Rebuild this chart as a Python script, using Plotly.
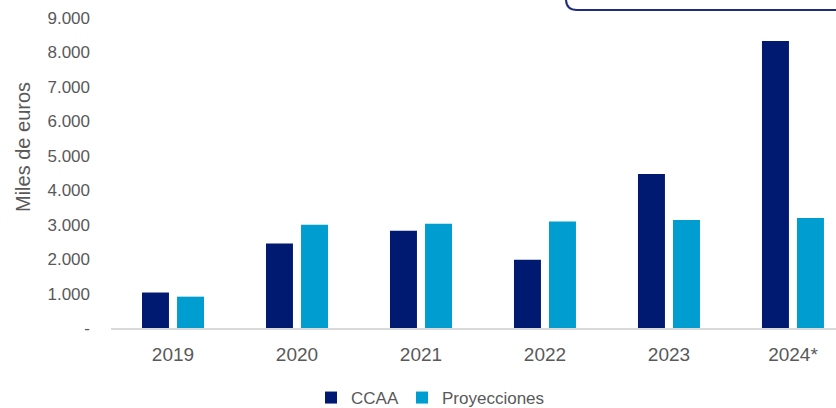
import plotly.graph_objects as go

# Datos (miles de euros)
years = ["2019", "2020", "2021", "2022", "2023", "2024*"]
ccaa = [1030, 2450, 2825, 1985, 4470, 8335]
proyecciones = [910, 3000, 3030, 3095, 3135, 3195]

y_tickvals = [0, 1000, 2000, 3000, 4000, 5000, 6000, 7000, 8000, 9000]
y_ticktext = ["-", "1.000", "2.000", "3.000", "4.000", "5.000", "6.000", "7.000", "8.000", "9.000"]

NAVY = "#001a72"
CYAN = "#009ed0"
GREY_TXT = "#595959"
FONT = "Liberation Sans"

fig = go.Figure()
fig.add_trace(go.Bar(name="CCAA", x=years, y=ccaa, legend="legend",
                     marker=dict(color=NAVY, line=dict(width=0))))
fig.add_trace(go.Bar(name="Proyecciones", x=years, y=proyecciones, legend="legend2",
                     marker=dict(color=CYAN, line=dict(width=0))))

# plot-area geometry in pixels (used for the framed note box and label placement)
L, R, T, B = 111, 836, 18, 328
W, H = R - L, B - T

def px(x):
    return (x - L) / W

def py(y):
    return (B - y) / H

rx, ry = 11 / W, 11 / H
x0, x1 = px(566), px(860)
y_bot, y_top = py(10), py(-10)
box_path = (
    f"M {x0},{y_top} L {x0},{y_bot + ry} Q {x0},{y_bot} {x0 + rx},{y_bot} "
    f"L {x1},{y_bot}"
)

legend_style = dict(
    orientation="h",
    xanchor="left",
    y=py(398),
    yanchor="middle",
    font=dict(family=FONT, size=17, color=GREY_TXT),
    itemwidth=30,
    bgcolor="rgba(0,0,0,0)",
)

fig.update_layout(
    width=836,
    height=408,
    margin=dict(l=L, r=0, t=T, b=408 - B, autoexpand=False),
    paper_bgcolor="white",
    plot_bgcolor="white",
    barmode="group",
    bargap=0.435,
    bargroupgap=0.23,
    font=dict(family=FONT, size=17, color=GREY_TXT),
    showlegend=True,
    legend=dict(x=px(311), **legend_style),
    legend2=dict(x=px(402), **legend_style),
    xaxis=dict(
        type="category",
        range=[-0.5, 5.347],
        showgrid=False,
        showline=True,
        linecolor="#d9d9d9",
        linewidth=2,
        ticks="",
        tickfont=dict(family=FONT, size=19, color=GREY_TXT),
        ticklabelstandoff=8,
    ),
    yaxis=dict(
        range=[0, 9000],
        tickvals=y_tickvals,
        ticktext=y_ticktext,
        showgrid=False,
        zeroline=False,
        showline=False,
        ticks="",
        tickfont=dict(family=FONT, size=17, color=GREY_TXT),
        ticklabelstandoff=20,
    ),
    annotations=[
        dict(
            text="Miles de euros",
            textangle=-90,
            xref="paper",
            yref="paper",
            x=px(23),
            y=py(147),
            xanchor="center",
            yanchor="middle",
            showarrow=False,
            font=dict(family=FONT, size=20, color=GREY_TXT),
        )
    ],
    shapes=[
        dict(
            type="path",
            path=box_path,
            xref="paper",
            yref="paper",
            line=dict(color="#1f2d7a", width=2),
            layer="above",
        )
    ],
)

fig.write_html("out.html")
